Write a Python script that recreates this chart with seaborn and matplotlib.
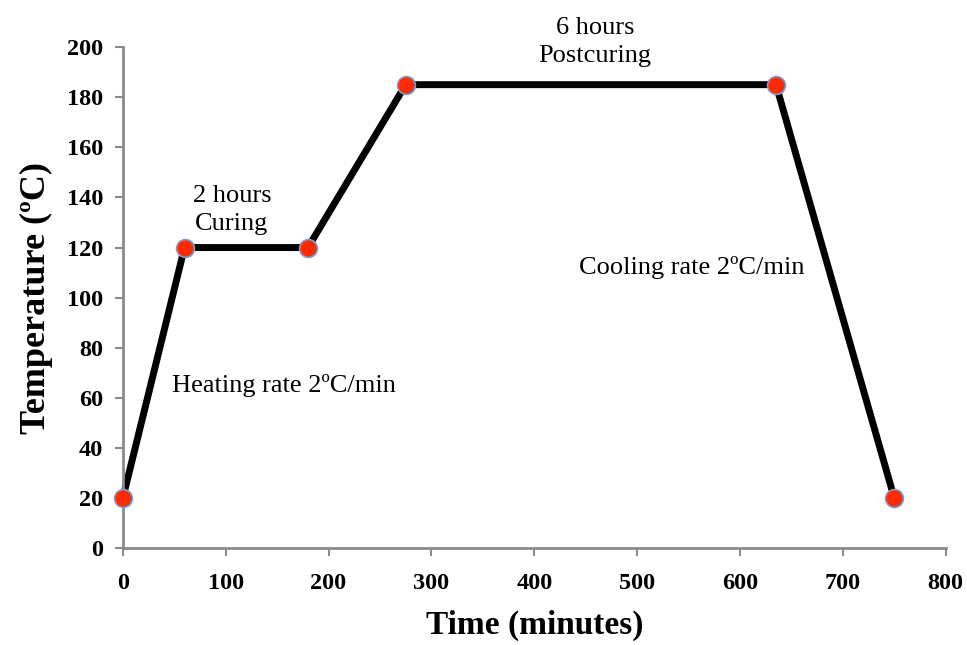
import matplotlib
matplotlib.use("Agg")
import matplotlib.pyplot as plt
import seaborn as sns
import pandas as pd

time_min = [0, 60, 180, 275, 635, 750]
temp_c = [20, 120, 120, 185, 185, 20]
x_ticks = [0, 100, 200, 300, 400, 500, 600, 700, 800]
y_ticks = [0, 20, 40, 60, 80, 100, 120, 140, 160, 180, 200]

df = pd.DataFrame({"Time": time_min, "Temp": temp_c})

sns.set_style("white")
plt.rcParams['font.family'] = ['Liberation Serif', 'DejaVu Serif']
plt.rcParams['text.color'] = 'black'
plt.rcParams['axes.labelcolor'] = 'black'
plt.rcParams['xtick.color'] = 'black'
plt.rcParams['ytick.color'] = 'black'

fig = plt.figure(figsize=(9.67, 6.45), dpi=100)
ax = fig.add_axes([0.127, 0.150, 0.851, 0.777])

sns.lineplot(data=df, x="Time", y="Temp", ax=ax, color="black", linewidth=5,
             sort=False, zorder=2, clip_on=False)
sns.scatterplot(data=df, x="Time", y="Temp", ax=ax, color="#ff2a00", s=165,
                edgecolor="#7a9fd0", linewidth=1.2, zorder=3, clip_on=False)

ax.set_xlim(0, 800)
ax.set_ylim(0, 200)
ax.set_xticks(x_ticks)
ax.set_yticks(y_ticks)
ax.set_xticklabels([str(v) for v in x_ticks], fontsize=17.5, fontweight="bold")
ax.set_yticklabels([str(v) for v in y_ticks], fontsize=17.5, fontweight="bold")
ax.tick_params(axis="both", direction="out", length=6, width=1.5, color="#8a8a8a",
               labelcolor="black", bottom=True, left=True)
ax.tick_params(axis="x", pad=12)
ax.tick_params(axis="y", pad=8)

for s in ["top", "right"]:
    ax.spines[s].set_visible(False)
for s in ["left", "bottom"]:
    ax.spines[s].set_color("#8a8a8a")
    ax.spines[s].set_linewidth(2)

ax.set_xlabel("Time (minutes)", fontsize=24, fontweight="bold", labelpad=11)
ax.set_ylabel("Temperature (ºC)", fontsize=26, fontweight="bold", labelpad=10)

ax.text(157, 65, "Heating rate 2ºC/min", fontsize=19, ha="center", va="center")
ax.text(553, 112, "Cooling rate 2ºC/min", fontsize=19, ha="center", va="center")
ax.text(106, 135, "2 hours\nCuring", fontsize=19, ha="center", va="center",
        linespacing=1.4)
ax.text(459, 202, "6 hours\nPostcuring", fontsize=19, ha="center", va="center",
        linespacing=1.4, clip_on=False)

ax.grid(False)
fig.savefig("out.png", dpi=100)
